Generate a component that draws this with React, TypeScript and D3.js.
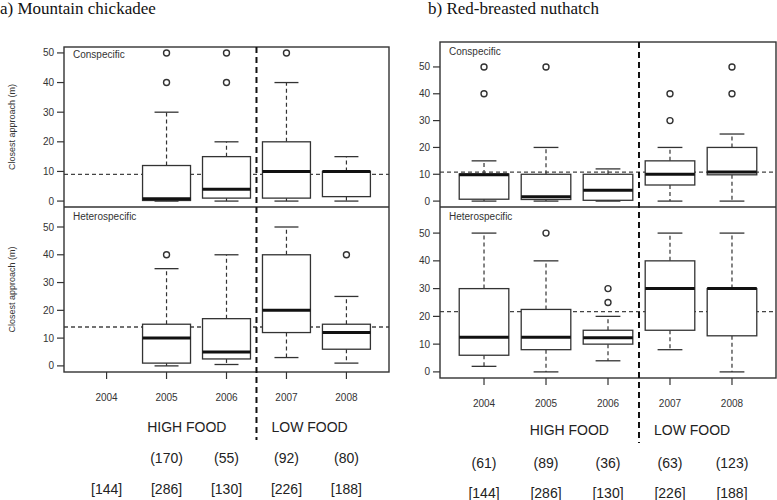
import React from 'react';
import * as d3 from 'd3';

const years = ['2004', '2005', '2006', '2007', '2008'];

// [min, q1, median, q3, max] for each year, null = no data
const chickadeeCon = [null, [0, 0.2, 0.8, 12, 30], [0, 1, 4, 15, 20], [0, 1, 10, 20, 40], [0, 1.5, 10, 10, 15]];
const chickadeeConOut = [[], [40, 50], [40, 50], [50], []];
const chickadeeHet = [null, [0, 1, 10, 15, 35], [0.5, 2.5, 5, 17, 40], [3, 12, 20, 40, 50], [1, 6, 12, 15, 25]];
const chickadeeHetOut = [[], [40], [], [], [40]];

const nuthatchCon = [[0, 0.7, 9.8, 10.1, 15], [0, 0.6, 1.6, 10, 20], [0, 0.3, 4, 10, 12], [0, 6, 10, 15, 20], [0, 9.8, 10.8, 20, 25]];
const nuthatchConOut = [[40, 50], [50], [], [30, 40], [40, 50]];
const nuthatchHet = [[2, 6, 12.5, 30, 50], [0, 8, 12.5, 22.5, 40], [4, 10, 12.3, 15, 20], [8, 15, 30, 40, 50], [0, 13, 30, 30, 50]];
const nuthatchHetOut = [[], [50], [25, 30], [], []];

const chickadeeRef = [9, 14];
const nuthatchRef = [10.8, 21.7];

const yTicks = [0, 10, 20, 30, 40, 50];
const chickadeeN = ['', '(170)', '(55)', '(92)', '(80)'];
const nuthatchN = ['(61)', '(89)', '(36)', '(63)', '(123)'];
const totalN = ['[144]', '[286]', '[130]', '[226]', '[188]'];

const sans = 'Liberation Sans, Arial, sans-serif';
const ink = '#333';

type Stats = number[] | null;

function BoxSet({ x, y, stats, outs, half, label, refVal, x0, x1, y0, y1, yTitle, labelY }: any) {
  return (
    <g>
      <line x1={x0} x2={x1} y1={y(refVal)} y2={y(refVal)} stroke="#444" strokeWidth={1.3} strokeDasharray="4,3" />
      {stats.map((s: Stats, i: number) => {
        if (!s) return null;
        const cx = x(years[i]);
        return (
          <g key={i} stroke={ink} fill="none">
            <line x1={cx} x2={cx} y1={y(s[3])} y2={y(s[4])} strokeDasharray="4,3" strokeWidth={1.2} />
            <line x1={cx} x2={cx} y1={y(s[1])} y2={y(s[0])} strokeDasharray="4,3" strokeWidth={1.2} />
            <line x1={cx - half / 2} x2={cx + half / 2} y1={y(s[4])} y2={y(s[4])} strokeWidth={1.3} />
            <line x1={cx - half / 2} x2={cx + half / 2} y1={y(s[0])} y2={y(s[0])} strokeWidth={1.3} />
            <rect x={cx - half} width={half * 2} y={y(s[3])} height={y(s[1]) - y(s[3])} fill="#fff" strokeWidth={1.3} />
            <line x1={cx - half} x2={cx + half} y1={y(s[2])} y2={y(s[2])} stroke="#111" strokeWidth={3} />
          </g>
        );
      })}
      {outs.map((o: number[], i: number) =>
        o.map((v, j) => (
          <circle key={i + '-' + j} cx={x(years[i])} cy={y(v)} r={3} fill="none" stroke={ink} strokeWidth={1.4} />
        ))
      )}
      {yTicks.map(t => (
        <g key={t}>
          <line x1={x0 - 7} x2={x0} y1={y(t)} y2={y(t)} stroke={ink} strokeWidth={1.2} />
          <text x={x0 - 10} y={y(t)} dy="0.35em" textAnchor="end" fontSize={10} fill={ink} fontFamily={sans}>{t}</text>
        </g>
      ))}
      <text x={x0 + 9} y={labelY} dy="0.35em" fontSize={10} fill={ink} fontFamily={sans}>{label}</text>
      {yTitle && (
        <text transform={`translate(12,${(y0 + y1) / 2}) rotate(-90)`} dy="0.35em" textAnchor="middle" fontSize={9} fill={ink} fontFamily={sans}>
          Closest approach (m)
        </text>
      )}
    </g>
  );
}

function Panel({ title, titleX, x0, x1, top, mid, bottom, conDomain, hetDomain, con, conOut, het, hetOut, refs, counts, textY, yTitle, labelYs }: any) {
  const x = d3.scalePoint<string>().domain(years).range([x0, x1]).padding(0.71);
  const yC = d3.scaleLinear().domain(conDomain).range([mid, top]);
  const yH = d3.scaleLinear().domain(hetDomain).range([bottom, mid]);
  const half = x.step() * 0.4;
  const divX = ((x('2006') as number) + (x('2007') as number)) / 2;
  return (
    <g>
      <text x={titleX} y={14} fontSize={17} fontFamily="Liberation Serif, Times New Roman, serif" fill="#111">{title}</text>
      <BoxSet x={x} y={yC} stats={con} outs={conOut} half={half} label="Conspecific" refVal={refs[0]}
        x0={x0} x1={x1} y0={top} y1={mid} yTitle={yTitle} labelY={labelYs[0]} />
      <BoxSet x={x} y={yH} stats={het} outs={hetOut} half={half} label="Heterospecific" refVal={refs[1]}
        x0={x0} x1={x1} y0={mid} y1={bottom} yTitle={yTitle} labelY={labelYs[1]} />
      <rect x={x0} y={top} width={x1 - x0} height={bottom - top} fill="none" stroke={ink} strokeWidth={1.4} />
      <line x1={x0} x2={x1} y1={mid} y2={mid} stroke={ink} strokeWidth={1.4} />
      <line x1={divX} x2={divX} y1={top} y2={textY[1] + 13} stroke="#111" strokeWidth={2} strokeDasharray="6,4" />
      {years.map((yr, i) => (
        <g key={yr}>
          <line x1={x(yr)} x2={x(yr)} y1={bottom} y2={bottom + 7} stroke={ink} strokeWidth={1.2} />
          <text x={x(yr)} y={textY[0]} dy="0.35em" textAnchor="middle" fontSize={10} fill={ink} fontFamily={sans}>{yr}</text>
          <text x={x(yr)} y={textY[2]} dy="0.35em" textAnchor="middle" fontSize={14} fill="#222" fontFamily={sans}>{counts[i]}</text>
          <text x={x(yr)} y={textY[3]} dy="0.35em" textAnchor="middle" fontSize={14} fill="#222" fontFamily={sans}>{totalN[i]}</text>
        </g>
      ))}
      <text x={divX - 30} y={textY[1]} dy="0.35em" textAnchor="end" fontSize={14} fill="#222" fontFamily={sans}>HIGH FOOD</text>
      <text x={divX + 15} y={textY[1]} dy="0.35em" fontSize={14} fill="#222" fontFamily={sans}>LOW FOOD</text>
    </g>
  );
}

export default function App() {
  return (
    <svg width={777} height={500} style={{ position: 'absolute', left: 0, top: 0, background: '#fff' }}>
      <Panel title="a) Mountain chickadee" titleX={0} x0={64} x1={389} top={47} mid={207} bottom={372}
        conDomain={[-2, 52]} hetDomain={[-2.2, 57.2]}
        con={chickadeeCon} conOut={chickadeeConOut} het={chickadeeHet} hetOut={chickadeeHetOut}
        refs={chickadeeRef} counts={chickadeeN} textY={[397, 427, 458, 489]} yTitle={true} labelYs={[54, 216]} />
      <Panel title="b) Red-breasted nuthatch" titleX={428} x0={440} x1={776} top={42} mid={207} bottom={378}
        conDomain={[-2.2, 59.3]} hetDomain={[-2.2, 59.4]}
        con={nuthatchCon} conOut={nuthatchConOut} het={nuthatchHet} hetOut={nuthatchHetOut}
        refs={nuthatchRef} counts={nuthatchN} textY={[403, 430, 463, 493]} yTitle={false} labelYs={[51, 216]} />
    </svg>
  );
}
